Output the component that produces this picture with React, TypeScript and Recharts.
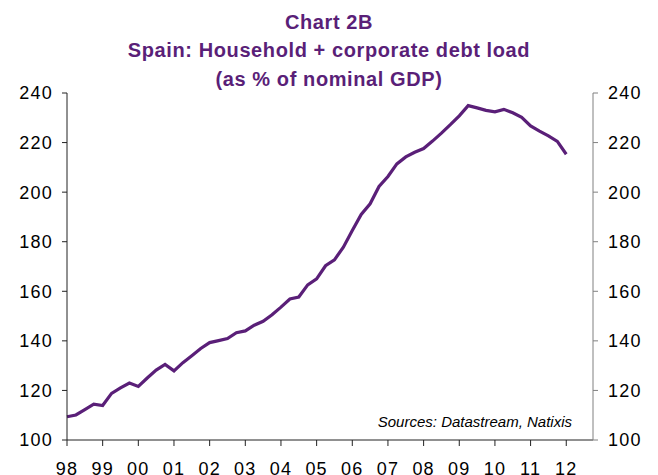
import React from "react";
import { LineChart, Line, XAxis, YAxis } from "recharts";

// Quarterly data, 1998 Q1 .. 2012 Q1 (% of nominal GDP)
const startYear = 1998;
const debtLoad = [
  109.4, 110.1, 112.3, 114.5, 113.9, 118.8, 121.0, 123.0,
  121.6, 125.0, 128.2, 130.5, 127.9, 131.2, 134.0, 136.9,
  139.3, 140.1, 140.9, 143.3, 144.0, 146.3, 147.9, 150.5,
  153.6, 156.9, 157.7, 162.6, 165.0, 170.3, 172.7, 177.8,
  184.5, 191.0, 195.3, 202.3, 206.3, 211.4, 214.2, 216.1,
  217.6, 220.6, 223.8, 227.2, 230.8, 234.9, 234.0, 233.0,
  232.4, 233.4, 232.0, 230.2, 226.7, 224.6, 222.7, 220.5,
  215.3,
];
const yearTicks = [
  1998, 1999, 2000, 2001, 2002, 2003, 2004, 2005, 2006, 2007, 2008, 2009,
  2010, 2011, 2012,
];
const valueTicks = [100, 120, 140, 160, 180, 200, 220, 240];
const titleLines = [
  "Chart 2B",
  "Spain: Household + corporate debt load",
  "(as % of nominal GDP)",
];
const sourceNote = "Sources: Datastream, Natixis";

const chartData = debtLoad.map((v, i) => ({ t: startYear + i / 4, value: v }));

const purple = "#5a1f78";
const font = "'Liberation Sans', Arial, sans-serif";

export default function App() {
  const tickStyle = { fill: "#000", fontSize: 18, fontFamily: font, letterSpacing: 1.2 };
  return (
    <div style={{ position: "absolute", left: 0, top: 0, width: 658, height: 475, background: "#fff" }}>
      <LineChart
        width={658}
        height={475}
        data={chartData}
        margin={{ top: 93, right: 0, bottom: 0, left: 0 }}
      >
        <XAxis
          dataKey="t"
          type="number"
          domain={[1998, 2012.75]}
          ticks={yearTicks}
          tickFormatter={(y: number) => String(y).slice(2)}
          height={35}
          tickSize={6}
          tickMargin={16}
          stroke="#222"
          tick={tickStyle}
          interval={0}
        />
        <YAxis
          yAxisId="left"
          orientation="left"
          domain={[100, 240]}
          ticks={valueTicks}
          width={67}
          tickSize={5}
          tickMargin={9}
          stroke="#222"
          tick={tickStyle}
          interval={0}
        />
        <YAxis
          yAxisId="right"
          orientation="right"
          domain={[100, 240]}
          ticks={valueTicks}
          width={65}
          tickSize={5}
          tickMargin={10}
          stroke="#808080"
          tick={tickStyle}
          interval={0}
        />
        {/* invisible copy so the right axis gets its scale */}
        <Line
          yAxisId="right"
          dataKey="value"
          stroke="none"
          dot={false}
          activeDot={false}
          legendType="none"
          isAnimationActive={false}
        />
        <Line
          yAxisId="left"
          dataKey="value"
          stroke={purple}
          strokeWidth={3.2}
          dot={false}
          isAnimationActive={false}
        />
      </LineChart>
      <svg
        width={658}
        height={475}
        style={{ position: "absolute", left: 0, top: 0, pointerEvents: "none" }}
      >
        {titleLines.map((line, i) => (
          <text
            key={line}
            x={329}
            y={29 + i * 28.3}
            textAnchor="middle"
            fontFamily={font}
            fontWeight="bold"
            fontSize={20}
            letterSpacing={0.6}
            fill={purple}
          >
            {line}
          </text>
        ))}
        <text
          x={572}
          y={427}
          textAnchor="end"
          fontFamily={font}
          fontStyle="italic"
          fontSize={15}
          fill="#000"
        >
          {sourceNote}
        </text>
      </svg>
    </div>
  );
}
